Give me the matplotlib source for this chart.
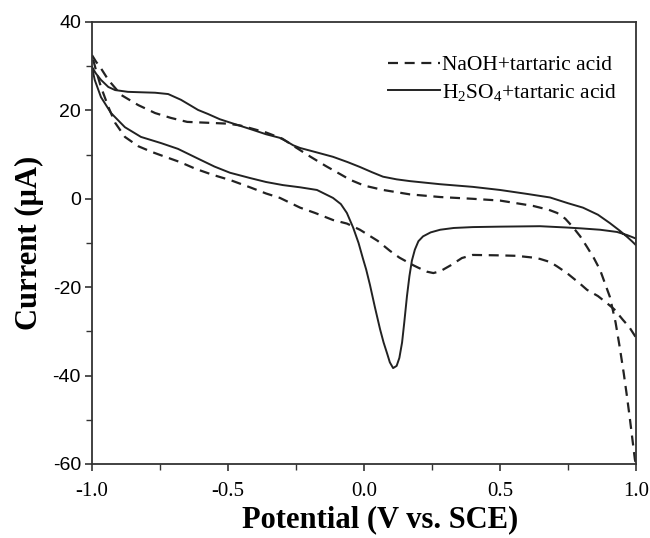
# --- Cyclic voltammograms: NaOH vs H2SO4 + tartaric acid ---

import numpy as np
import matplotlib
matplotlib.use("Agg")
import matplotlib.pyplot as plt

plt.rcParams['mathtext.fontset'] = 'custom'
plt.rcParams['mathtext.rm'] = 'Liberation Serif'
plt.rcParams['mathtext.it'] = 'Liberation Serif:italic'

# --- Data ---

# H2SO4 + tartaric acid, upper branch (-1.0 -> 1.0)
h2so4_up_v = [-1.0, -0.985, -0.967, -0.94, -0.915, -0.868, -0.82, -0.768, -0.72, -0.673,
              -0.64, -0.61, -0.574, -0.53, -0.48, -0.419, -0.36, -0.31, -0.285, -0.26,
              -0.235, -0.18, -0.114, -0.06, -0.015, 0.03, 0.07, 0.12, 0.169, 0.28,
              0.40, 0.50, 0.60, 0.684, 0.75, 0.805, 0.86, 0.904, 0.94, 0.967,
              0.985, 1.0]
h2so4_up_i = [29.8, 28.3, 26.9, 25.3, 24.6, 24.2, 24.1, 24.0, 23.7, 22.4,
              21.2, 20.1, 19.2, 18.0, 17.0, 15.8, 14.6, 13.8, 13.0, 12.1,
              11.5, 10.6, 9.5, 8.3, 7.2, 6.0, 5.0, 4.4, 4.0, 3.3,
              2.7, 2.0, 1.1, 0.3, -1.0, -2.0, -3.6, -5.5, -7.2, -8.6,
              -9.6, -10.5]

# H2SO4 + tartaric acid, lower branch (1.0 -> -1.0)
h2so4_dn_v = [1.0, 0.967, 0.93, 0.868, 0.80, 0.746, 0.647, 0.50, 0.40, 0.33,
              0.28, 0.245, 0.217, 0.20, 0.187, 0.176, 0.167, 0.158, 0.148, 0.14,
              0.13, 0.12, 0.107, 0.095, 0.085, 0.072, 0.059, 0.04, 0.022, 0.008,
              -0.004, -0.02, -0.04, -0.063, -0.085, -0.114, -0.173, -0.235, -0.298, -0.36,
              -0.419, -0.493, -0.55, -0.614, -0.684, -0.746, -0.82, -0.879, -0.93, -0.967,
              -0.99, -1.0]
h2so4_dn_i = [-9.0, -8.2, -7.5, -7.0, -6.7, -6.5, -6.2, -6.3, -6.4, -6.6,
              -7.0, -7.6, -8.5, -9.6, -11.5, -14.0, -17.5, -22.0, -28.0, -32.5,
              -36.0, -37.8, -38.3, -37.0, -35.0, -32.5, -29.5, -24.5, -19.5, -16.0,
              -13.5, -10.0, -6.5, -3.2, -1.2, 0.2, 2.0, 2.6, 3.1, 3.8,
              4.7, 5.9, 7.3, 9.2, 11.3, 12.6, 14.0, 16.2, 19.4, 23.0,
              26.9, 29.8]

# NaOH + tartaric acid, upper branch (-1.0 -> 1.0)
naoh_up_v = [-1.0, -0.985, -0.97, -0.94, -0.893, -0.83, -0.768, -0.71, -0.65, -0.574,
             -0.50, -0.456, -0.419, -0.36, -0.30, -0.25, -0.199, -0.14, -0.088, -0.051,
             0.0, 0.07, 0.169, 0.28, 0.40, 0.50, 0.621, 0.68, 0.71, 0.74,
             0.768, 0.795, 0.82, 0.845, 0.868, 0.904, 0.925, 0.94, 0.955, 0.967,
             0.978, 0.988, 0.996, 1.0]
naoh_up_i = [32.5, 31.0, 29.8, 26.9, 23.5, 21.2, 19.4, 18.3, 17.4, 17.2,
             17.0, 16.6, 16.0, 15.0, 13.6, 11.6, 9.6, 7.4, 5.6, 4.3,
             3.0, 2.0, 1.0, 0.4, 0.0, -0.4, -1.6, -2.5, -3.2, -4.5,
             -6.4, -8.5, -10.9, -13.4, -16.1, -22.2, -28.0, -33.5, -39.5, -44.8,
             -50.0, -55.0, -59.0, -60.0]

# NaOH + tartaric acid, lower branch (1.0 -> -1.0)
naoh_dn_v = [0.998, 0.975, 0.952, 0.92, 0.893, 0.86, 0.82, 0.794, 0.746, 0.71,
             0.684, 0.647, 0.621, 0.56, 0.50, 0.40, 0.36, 0.32, 0.28, 0.255,
             0.232, 0.20, 0.18, 0.13, 0.096, 0.05, -0.015, -0.063, -0.114, -0.18,
             -0.235, -0.309, -0.36, -0.419, -0.49, -0.555, -0.62, -0.676, -0.74, -0.78,
             -0.83, -0.879, -0.915, -0.94, -0.967, -0.985, -1.0]
naoh_dn_i = [-31.2, -29.0, -27.4, -25.0, -23.6, -22.0, -20.6, -19.2, -16.8, -15.3,
             -14.3, -13.6, -13.3, -12.9, -12.8, -12.7, -13.4, -15.0, -16.4, -16.8,
             -16.5, -15.6, -15.0, -13.3, -11.8, -9.5, -7.0, -5.6, -4.8, -3.2,
             -2.0, 0.2, 1.2, 2.6, 4.2, 5.4, 6.8, 8.3, 9.7, 10.6,
             11.9, 14.0, 17.2, 20.8, 25.3, 29.0, 32.5]

x_ticks = [-1.0, -0.5, 0.0, 0.5, 1.0]
y_ticks = [-60, -40, -20, 0, 20, 40]

# --- Plot ---

fig = plt.figure(figsize=(6.5, 5.38), dpi=100)
ax = fig.add_axes([92 / 650, 1 - 464 / 538, 544 / 650, 442 / 538])

h2so4_v = np.concatenate([h2so4_up_v, h2so4_dn_v])
h2so4_i = np.concatenate([h2so4_up_i, h2so4_dn_i])

ax.plot(naoh_up_v, naoh_up_i, color='#222222', lw=1.6, ls=(0, (4.5, 3)),
        label='NaOH+tartaric acid')
ax.plot(naoh_dn_v, naoh_dn_i, color='#222222', lw=1.6, ls=(0, (4.5, 3)))
ax.plot(h2so4_v, h2so4_i, color='#222222', lw=1.4,
        label=r'H$_2$SO$_4$+tartaric acid')

ax.set_xlim(-1.0, 1.0)
ax.set_ylim(-60, 40)
ax.set_xticks(x_ticks)
ax.set_xticklabels(['%.1f' % t for t in x_ticks], family='Liberation Serif', fontsize=15)
ax.set_yticks(y_ticks)
ax.set_yticklabels([str(t) for t in y_ticks], family='Liberation Sans', fontsize=14)
ax.set_xticks(np.arange(-1.0, 1.01, 0.25), minor=True)
ax.set_yticks(np.arange(-60, 41, 10), minor=True)
ax.tick_params(which='major', direction='out', length=5, width=1.2, color='#333333')
ax.tick_params(which='minor', direction='out', length=4, width=1.0, color='#333333')
ax.tick_params(axis='x', which='major', pad=8)
ax.tick_params(axis='y', which='major', pad=3)
for s in ax.spines.values():
    s.set_linewidth(1.3)
    s.set_color('#333333')

ax.set_xlabel('Potential (V vs. SCE)', family='Liberation Serif', fontweight='bold',
              fontsize=22)
ax.xaxis.set_label_coords(0.53, -0.127, transform=ax.transAxes)
ax.xaxis.label.set_va('center')
ax.set_ylabel(u'Current (\u00b5A)', family='Liberation Serif', fontweight='bold',
              fontsize=22, labelpad=6)

leg = ax.legend(loc='upper right', frameon=False, prop={'family': 'Liberation Serif', 'size': 15.5},
                handlelength=2.4, handletextpad=0.1, labelspacing=0.3,
                borderaxespad=0, borderpad=0,
                bbox_to_anchor=(0.965, 0.925))

fig.savefig('out.png', dpi=100)
